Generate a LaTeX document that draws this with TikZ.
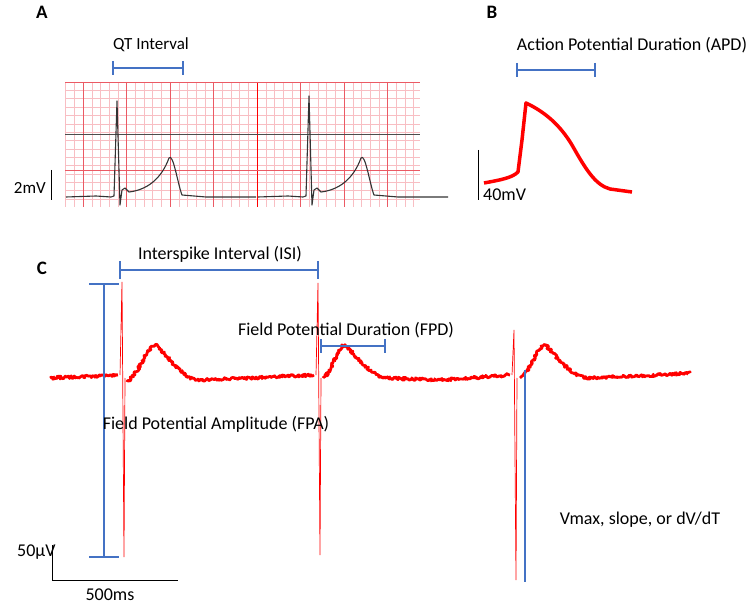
\documentclass[tikz,border=0pt]{standalone}
\usepackage{fontspec}
\setmainfont{Carlito}
\usetikzlibrary{decorations.pathmorphing}
\definecolor{barblue}{RGB}{68,114,196}
\definecolor{gridpink}{RGB}{248,190,195}
\definecolor{gridred}{RGB}{235,90,100}
\tikzset{
  bar/.style={barblue, line width=2.2pt},
  lbl/.style={font=\fontsize{18}{20}\selectfont, inner sep=0pt},
  panel/.style={font=\fontsize{19}{21}\selectfont\bfseries, inner sep=0pt},
  noisy/.style={red, line width=2.8pt, line join=round, decorate, decoration={random steps, segment length=1pt, amplitude=1.4pt}},
}
\begin{document}
\begin{tikzpicture}[x=1pt, y=-1pt]
      \useasboundingbox (0,0) rectangle (750,604);
      % panel A
      \node[panel] (labA) at (42,12) {A};
      \begin{scope}
        \clip (65,82) rectangle (420,207);
        \foreach \i in {-3,...,45} \draw[gridpink, line width=.4pt] (83+8.7*\i,82)--(83+8.7*\i,207);
        \foreach \j in {0,...,15} \draw[gridpink, line width=.4pt] (65,82+8.35*\j)--(420,82+8.35*\j);
        \foreach \i in {0,...,7} \draw[gridred, line width=.8pt] (83+43.5*\i,82)--(83+43.5*\i,207);
        \draw[red, line width=1pt] (257,82)--(257,207);
        \draw[gridred, line width=.8pt] (65,82)--(420,82);
        \draw[gridred, line width=.8pt] (65,207)--(420,207);
        \draw[gridred, line width=.8pt] (65,170)--(420,170);
        \draw[black!70, line width=.6pt] (65,134)--(420,134);
      \end{scope}
      \foreach \x/\top in {116/101, 308/96} {
        \draw[black!80, line width=1.1pt, line join=round]
          (\x-50,197)--(\x-20,196)--(\x-5,197)--(\x-2,196)--(\x+1,\top)--(\x+4,205)--(\x+6,190)--(\x+9,188)--(\x+13,192)
          .. controls (\x+30,190) and (\x+45,180) .. (\x+53,158)
          .. controls (\x+57,152) and (\x+62,185) .. (\x+66,195)--(\x+90,197)--(\x+140,197);
      }
      \draw[black, line width=.8pt] (51,170)--(51,200);
      \node[lbl, anchor=east, font=\fontsize{17}{19}\selectfont] (lab2mV) at (46,188) {2mV};
      \draw[bar] (113,68)--(183,68);
      \draw[bar] (113,61)--(113,75);
      \draw[bar] (183,61)--(183,75);
      \node[lbl, font=\fontsize{17}{19}\selectfont] (labQT) at (151,45) {QT Interval};
      % panel B
      \node[panel] (labB) at (492,12) {B};
      \draw[bar] (517,70)--(595,70);
      \draw[bar] (517,63)--(517,77);
      \draw[bar] (595,63)--(595,77);
      \node[lbl] (labAPD) at (632,45) {Action Potential Duration (APD)};
      \draw[red, line width=3.5pt, line join=round]
        (484,183) .. controls (500,180) and (512,178) .. (518,172)
        -- (522,140) -- (526,103)
        .. controls (545,112) and (560,125) .. (572,145)
        .. controls (585,168) and (595,185) .. (610,189) -- (632,192);
      \draw[black, line width=.8pt] (478,150)--(478,200);
      \node[lbl, anchor=west] (lab40mV) at (483,195) {40mV};
      % panel C
      \node[panel] (labC) at (42,268) {C};
      \draw[noisy] (50,378)--(100,376)--(118,375);
      \draw[noisy] (127,382) .. controls (140,372) and (148,345) .. (155,345)
        .. controls (165,350) and (175,372) .. (195,380) -- (250,378) -- (314,375);
      \draw[noisy] (323,378) .. controls (332,372) and (338,345) .. (345,345)
        .. controls (352,350) and (365,372) .. (385,378) -- (440,380) -- (510,375);
      \draw[noisy] (520,378) .. controls (530,372) and (538,345) .. (545,345)
        .. controls (552,350) and (565,372) .. (585,378) -- (640,376) -- (690,373);
      \draw[red, line width=.7pt] (120,375)--(122,282)--(124,557)--(125,378);
      \draw[red, line width=.7pt] (316,375)--(318,283)--(320,555)--(321,378);
      \draw[red, line width=.7pt] (512,375)--(514,330)--(516,580)--(517,378);
      % measures
      \draw[bar, line width=1.6pt] (120,270)--(318,270);
      \draw[bar, line width=1.6pt] (120,261)--(120,279);
      \draw[bar, line width=1.6pt] (318,261)--(318,279);
      \node[lbl] (labISI) at (220,254) {Interspike Interval (ISI)};
      \draw[bar, line width=1.6pt] (104,284)--(104,557);
      \draw[bar] (89,284)--(119,284);
      \draw[bar] (89,557)--(119,557);
      \node[lbl] (labFPA) at (216,424) {Field Potential Amplitude (FPA)};
      \draw[bar] (321,346)--(385,346);
      \draw[bar] (321,339)--(321,353);
      \draw[bar] (385,339)--(385,353);
      \node[lbl] (labFPD) at (346,330) {Field Potential Duration (FPD)};
      \draw[bar, line width=1.4pt] (525,370)--(525,582);
      \node[lbl] (labVmax) at (640,520) {Vmax, slope, or dV/dT};
      \draw[black, line width=.8pt] (52,545)--(52,580)--(178,580);
      \node[lbl, anchor=west] (lab50) at (17,552) {50\textmu V};
      \node[lbl] (lab500) at (110,595) {500ms};
\end{tikzpicture}
\end{document}
